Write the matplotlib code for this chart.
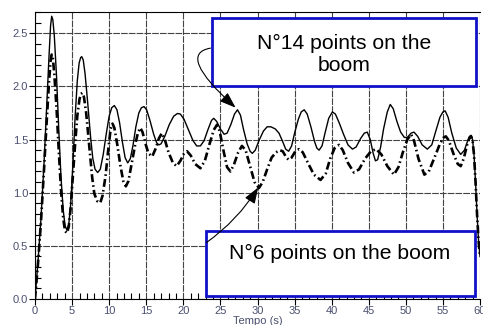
import matplotlib.pyplot as plt
from matplotlib.patches import Rectangle
from matplotlib.ticker import MultipleLocator

plt.rcParams['font.family'] = ['Liberation Sans', 'DejaVu Sans']

# N°14 points on the boom (linha continua)
t14 = [0.0, 0.4, 0.8, 1.2, 1.6, 1.9, 2.1, 2.25, 2.4, 2.6, 2.9, 3.2, 3.5, 3.8, 4.05, 4.3,
       4.55, 4.8, 5.1, 5.4, 5.7, 5.95, 6.15, 6.3, 6.5, 6.75, 7.1, 7.5, 7.8, 8.1, 8.45, 8.8,
       9.2, 9.6, 10.0, 10.35, 10.7, 11.05, 11.4, 11.8, 12.15, 12.5, 12.85, 13.2, 13.6, 14.0,
       14.35, 14.7, 15.05, 15.5, 16.0, 16.4, 16.7, 17.0, 17.5, 18.1, 18.7, 19.2, 19.6, 20.1,
       20.7, 21.3, 21.8, 22.3, 22.8, 23.3, 23.8, 24.1, 24.5, 25.0, 25.5, 25.9, 26.4, 26.9,
       27.3, 27.7, 28.1, 28.6, 29.0, 29.3, 29.7, 30.2, 30.8, 31.3, 31.8, 32.4, 32.9, 33.4,
       33.8, 34.2, 34.6, 35.0, 35.5, 35.9, 36.3, 36.7, 37.2, 37.7, 38.0, 38.3, 38.7, 39.1,
       39.6, 40.1, 40.5, 41.0, 41.6, 42.2, 42.8, 43.3, 43.9, 44.4, 44.8, 45.2, 45.6, 45.9,
       46.2, 46.6, 47.0, 47.5, 47.9, 48.3, 48.8, 49.3, 49.8, 50.2, 50.7, 51.1, 51.6, 52.2,
       52.9, 53.5, 54.0, 54.6, 55.0, 55.3, 55.7, 56.2, 56.8, 57.4, 57.9, 58.3, 58.6, 58.8,
       59.0, 59.2, 59.4, 59.6, 59.8, 60.0]
y14 = [0.0, 0.35, 0.75, 1.25, 1.85, 2.3, 2.57, 2.66, 2.63, 2.48, 2.1, 1.6, 1.15, 0.84, 0.69, 0.65,
       0.7, 0.88, 1.25, 1.7, 2.05, 2.22, 2.27, 2.28, 2.25, 2.12, 1.85, 1.52, 1.32, 1.22, 1.19, 1.22,
       1.36, 1.55, 1.72, 1.80, 1.82, 1.78, 1.66, 1.47, 1.33, 1.28, 1.32, 1.44, 1.62, 1.75,
       1.80, 1.81, 1.78, 1.68, 1.55, 1.47, 1.45, 1.46, 1.53, 1.64, 1.72, 1.745, 1.74, 1.69,
       1.59, 1.49, 1.44, 1.44, 1.49, 1.59, 1.68, 1.70, 1.67, 1.60, 1.55, 1.56, 1.64, 1.74,
       1.78, 1.73, 1.60, 1.46, 1.39, 1.37, 1.40, 1.49, 1.58, 1.62, 1.62, 1.60, 1.56, 1.48,
       1.41, 1.39, 1.44, 1.56, 1.69, 1.76, 1.78, 1.74, 1.62, 1.48, 1.42, 1.40, 1.44, 1.56,
       1.70, 1.76, 1.74, 1.66, 1.55, 1.45, 1.41, 1.43, 1.51, 1.56, 1.57, 1.50, 1.37, 1.30,
       1.31, 1.43, 1.60, 1.76, 1.83, 1.79, 1.67, 1.57, 1.52, 1.52, 1.56, 1.57, 1.53, 1.45,
       1.41, 1.45, 1.57, 1.71, 1.76, 1.77, 1.71, 1.56, 1.42, 1.36, 1.40, 1.48, 1.53, 1.54,
       1.50, 1.35, 1.10, 0.80, 0.55, 0.40]

# N°6 points on the boom (traco-ponto)
t6 = [0.0, 0.4, 0.8, 1.2, 1.6, 1.9, 2.1, 2.25, 2.4, 2.6, 2.9, 3.2, 3.5, 3.8, 4.05, 4.3,
      4.55, 4.8, 5.1, 5.4, 5.7, 6.0, 6.2, 6.4, 6.6, 6.9, 7.3, 7.7, 8.0, 8.4, 8.8, 9.1,
      9.5, 9.9, 10.2, 10.45, 10.7, 11.1, 11.5, 11.9, 12.25, 12.6, 13.0, 13.5, 13.9, 14.2,
      14.5, 14.9, 15.3, 15.8, 16.3, 16.7, 17.1, 17.5, 18.0, 18.6, 19.1, 19.6, 20.1, 20.5,
      21.0, 21.6, 22.3, 22.9, 23.5, 24.1, 24.55, 24.9, 25.4, 25.9, 26.35, 26.8, 27.4, 27.9,
      28.4, 29.0, 29.6, 30.2, 30.7, 31.3, 31.9, 32.5, 33.0, 33.4, 33.9, 34.2, 34.6, 35.1,
      35.6, 36.1, 36.8, 37.6, 38.5, 39.2, 39.8, 40.4, 41.0, 41.5, 42.2, 43.0, 43.7, 44.5,
      45.3, 46.0, 46.7, 47.5, 48.4, 49.0, 49.6, 50.2, 50.7, 51.1, 51.7, 52.5, 53.1, 53.8,
      54.6, 55.1, 55.4, 55.8, 56.4, 57.0, 57.4, 57.8, 58.3, 58.6, 58.8, 59.0, 59.2, 59.4,
      59.6, 59.8, 60.0]
y6 = [0.0, 0.33, 0.72, 1.2, 1.7, 2.05, 2.24, 2.30, 2.27, 2.12, 1.8, 1.4, 1.03, 0.76, 0.64, 0.62,
      0.68, 0.85, 1.15, 1.45, 1.72, 1.88, 1.93, 1.94, 1.90, 1.75, 1.45, 1.15, 0.99, 0.92, 0.905, 0.97,
      1.15, 1.42, 1.60, 1.65, 1.61, 1.45, 1.26, 1.11, 1.06, 1.11, 1.26, 1.45, 1.57, 1.61,
      1.57, 1.46, 1.37, 1.34, 1.42, 1.51, 1.56, 1.50, 1.38, 1.28, 1.25, 1.30, 1.37, 1.39,
      1.35, 1.27, 1.23, 1.30, 1.45, 1.59, 1.64, 1.58, 1.40, 1.24, 1.20, 1.26, 1.38, 1.44,
      1.40, 1.25, 1.10, 1.045, 1.10, 1.22, 1.33, 1.38, 1.40, 1.39, 1.33, 1.31, 1.33, 1.39,
      1.41, 1.38, 1.28, 1.17, 1.12, 1.18, 1.32, 1.42, 1.45, 1.40, 1.28, 1.19, 1.22, 1.32,
      1.39, 1.41, 1.36, 1.25, 1.17, 1.24, 1.38, 1.50, 1.55, 1.49, 1.32, 1.17, 1.20, 1.32,
      1.46, 1.52, 1.53, 1.49, 1.37, 1.27, 1.25, 1.32, 1.46, 1.52, 1.53, 1.49, 1.35, 1.10,
      0.80, 0.55, 0.40]

label14 = 'N°14 points on the\nboom'
label6 = 'N°6 points on the boom'

fig = plt.figure(figsize=(4.83, 3.25), dpi=100)
ax = fig.add_axes([35 / 483, 1 - 299 / 325, 445 / 483, 287 / 325])

ax.plot(t14, y14, color='black', lw=1.0)
ax.plot(t6, y6, color='black', lw=1.9, dashes=(3, 1.2, 0.6, 1.2))

ax.set_xlim(0, 60)
ax.set_ylim(0, 2.7)
ax.xaxis.set_major_locator(MultipleLocator(5))
ax.yaxis.set_major_locator(MultipleLocator(0.5))
ax.xaxis.set_minor_locator(MultipleLocator(1))
ax.yaxis.set_minor_locator(MultipleLocator(0.1))
ax.yaxis.set_major_formatter(plt.FormatStrFormatter('%.1f'))
lab_col = '#4a4f6e'
ax.tick_params(which='major', direction='out', length=4, width=0.8, labelsize=8,
               labelcolor=lab_col, pad=1)
ax.tick_params(which='minor', direction='in', length=4, width=0.8)
ax.grid(True, which='major', color='#444444', lw=0.8, linestyle=(0, (6, 1)))
ax.spines['right'].set_visible(False)
ax.set_xlabel('Tempo (s)', fontsize=8, color=lab_col, labelpad=0)

# caixas de texto
for (x0, y0, x1, y1) in [(212, 18, 476, 86), (206, 231, 475, 296)]:
    r = Rectangle((x0 / 483, 1 - y1 / 325), (x1 - x0) / 483, (y1 - y0) / 325,
                  transform=fig.transFigure, facecolor='white', edgecolor='#1010c8',
                  lw=2, zorder=5, clip_on=False)
    ax.add_patch(r)

fig.text(344 / 483, 1 - 54 / 325, label14, ha='center', va='center', fontsize=15.2,
         linespacing=1.2, zorder=6)
fig.text(340 / 483, 1 - 253 / 325, label6, ha='center', va='center', fontsize=15.2,
         zorder=6)

# setas
ax.annotate('', xy=(27.05, 1.80), xytext=(23.65, 2.36), zorder=7,
            arrowprops=dict(arrowstyle='-|>,head_length=0.7,head_width=0.25', color='black',
                            lw=0.8, mutation_scale=14, shrinkA=0, shrinkB=0,
                            connectionstyle='angle3,angleA=190,angleB=138'))
ax.annotate('', xy=(30.1, 1.05), xytext=(23.1, 0.53), zorder=7,
            arrowprops=dict(arrowstyle='-|>,head_length=0.7,head_width=0.25', color='black',
                            lw=0.8, mutation_scale=14, shrinkA=0, shrinkB=0,
                            connectionstyle='arc3,rad=0.1'))

plt.savefig('out.png', dpi=100)
